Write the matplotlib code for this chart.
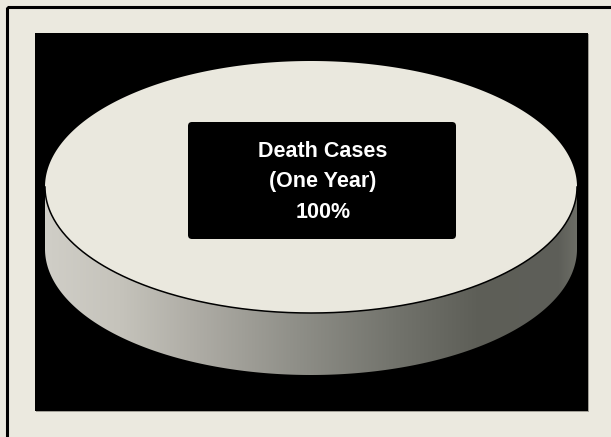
import numpy as np
import matplotlib.pyplot as plt
from matplotlib.patches import Rectangle, FancyBboxPatch, Polygon

# pie data: a single slice covering the whole year
labels = ['Death Cases\n(One Year)']
values = [100]

W, H = 611, 437
fig = plt.figure(figsize=(W / 100, H / 100), dpi=100, facecolor='#ebe9df')
ax = fig.add_axes([0, 0, 1, 1])
ax.set_xlim(0, W)
ax.set_ylim(H, 0)
ax.axis('off')

# frame and black plot area
ax.add_patch(Rectangle((6.5, 6.5), 700, 500, fill=False, ec='black', lw=2.2))
ax.add_patch(Rectangle((36, 34), 553, 378, fc='#a09e96', ec='none'))
ax.add_patch(Rectangle((35, 33), 553, 378, fc='black', ec='none'))

# 3d pie geometry (pixels)
cx, cy, a, b, depth = 311, 187, 266, 126, 62
total = float(sum(values))
start = -np.pi / 2

# shading across the rim, light on the left to dark on the right
stop_x = [45, 120, 200, 300, 400, 480, 560, 577]
stop_c = np.array([(208, 206, 199), (197, 195, 187), (173, 171, 164), (142, 142, 135),
                   (113, 114, 107), (93, 94, 87), (94, 95, 89), (108, 109, 102)]) / 255.0
gx = np.linspace(45, 577, 400)
grad = np.stack([np.interp(gx, stop_x, stop_c[:, k]) for k in range(3)], axis=-1)[None, :, :]

for lab, v in zip(labels, values):
    frac = v / total
    t = np.linspace(start, start + 2 * np.pi * frac, 721)

    # visible front part of the rim
    tf = t[np.sin(t) >= 0]
    if len(tf):
        top_x = cx + a * np.cos(tf)
        top_y = cy + b * np.sin(tf)
        side = np.vstack([np.column_stack([top_x, top_y]),
                          np.column_stack([top_x[::-1], top_y[::-1] + depth])])
        side_patch = Polygon(side, closed=True, fc='none', ec='none')
        ax.add_patch(side_patch)
        im = ax.imshow(grad, extent=(45, 577, cy + b + depth + 2, cy - 2),
                       aspect='auto', interpolation='bilinear', zorder=2)
        im.set_clip_path(side_patch)

    # top face
    px = cx + a * np.cos(t)
    py = cy + b * np.sin(t)
    if frac < 1:
        px = np.r_[cx, px]
        py = np.r_[cy, py]
    ax.add_patch(Polygon(np.column_stack([px, py]), closed=True,
                         fc='#eae8de', ec='none', zorder=3))
    ax.plot(cx + a * np.cos(tf), cy + b * np.sin(tf), color='black', lw=1.1, zorder=4)

    # label box
    pct = 100 * frac
    ax.add_patch(FancyBboxPatch((188, 122), 268, 117,
                                boxstyle='round,pad=0,rounding_size=4',
                                fc='black', ec='none', zorder=5))
    ax.text(323, 182, f'{lab}\n{pct:.0f}%', ha='center', va='center',
            color='white', fontsize=15.5, fontweight='bold',
            family='Liberation Sans', linespacing=1.6, zorder=6)

ax.set_xlim(0, W)
ax.set_ylim(H, 0)
fig.savefig('out.png', dpi=100, facecolor=fig.get_facecolor())
